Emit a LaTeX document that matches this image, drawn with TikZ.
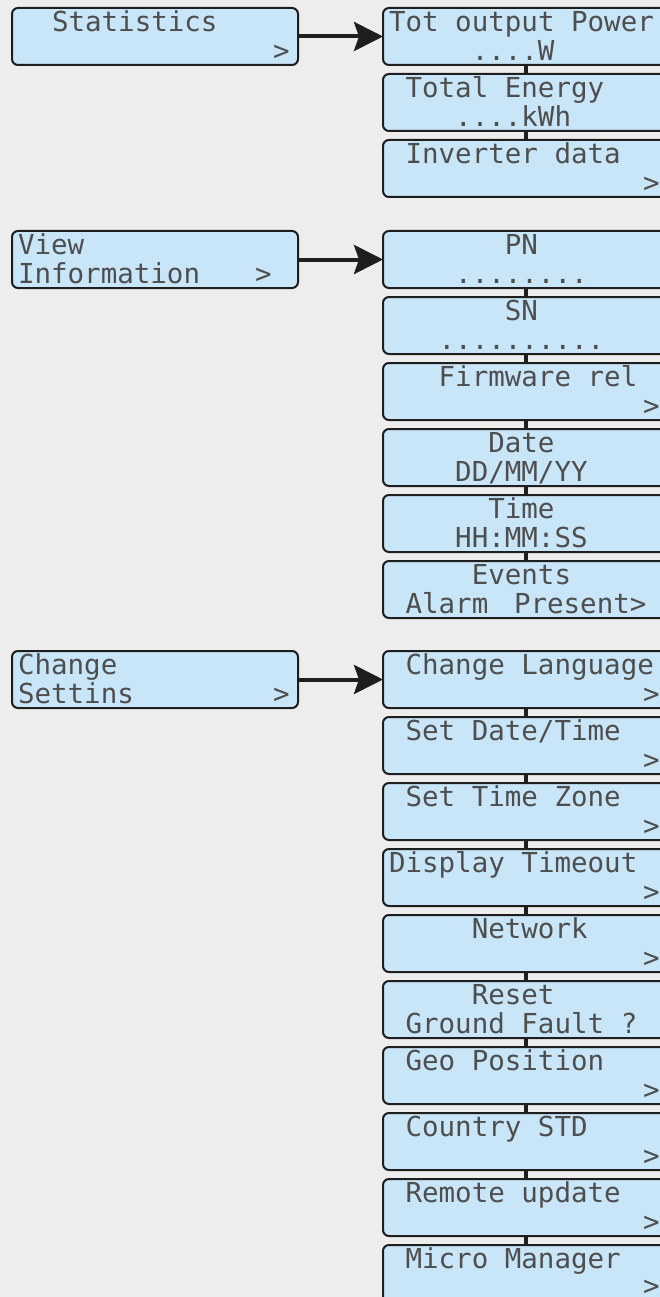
\documentclass[tikz,border=0pt]{standalone}
\usepackage{fontspec}
\newfontfamily\lcdfont{DejaVu Sans Mono}
\usetikzlibrary{arrows.meta,calc}
\definecolor{bgcol}{HTML}{EDEDED}
\definecolor{boxfill}{HTML}{C8E6F8}
\definecolor{boxline}{HTML}{1E1E1E}
\definecolor{lcdtext}{HTML}{4E4E4E}
\newcommand\lcdline[5]{\node[lcd] (#1) at ($(#2.north west)+(#3,#4)$) {#5};}
\begin{document}
\begin{tikzpicture}[x=1pt,y=-1pt,
  menubox/.style={draw=boxline, fill=boxfill, line width=2pt, rounded corners=6pt,
    minimum width=286pt, minimum height=57pt, anchor=north west, inner sep=0pt, outer sep=0pt},
  lcd/.style={anchor=base west, inner sep=0pt, outer sep=0pt,
    font=\lcdfont\fontsize{27.5}{30}\selectfont, text=lcdtext},
  link/.style={draw=boxline, line width=4pt},
  goarrow/.style={draw=boxline, line width=4pt, -{Stealth[length=29pt,width=29pt,inset=5pt]}}]
\useasboundingbox (0,0) rectangle (660,1297);
\clip (0,0) rectangle (660,1297);
\fill[bgcol] (0,0) rectangle (660,1297);

% ---------- left menu boxes ----------
\node[menubox] (stat) at (12,8) {};
\node[menubox] (info) at (12,231) {};
\node[menubox] (sett) at (12,651) {};
\lcdline{stat1}{stat}{40}{23.5}{Statistics}
\lcdline{stat2}{stat}{261}{52.5}{>}
\lcdline{info1}{info}{6}{23.5}{View}
\lcdline{info2}{info}{6}{52.5}{Information}
\lcdline{info3}{info}{243}{52.5}{>}
\lcdline{sett1}{sett}{6}{23.5}{Change}
\lcdline{sett2}{sett}{6}{52.5}{Settins}
\lcdline{sett3}{sett}{261}{52.5}{>}

% ---------- statistics column ----------
\node[menubox] (pow) at (383,8) {};
\node[menubox] (ene) at (383,74) {};
\node[menubox] (inv) at (383,140) {};
\lcdline{pow1}{pow}{6}{23.5}{Tot output Power}
\lcdline{pow2}{pow}{88.75}{52.5}{....W}
\lcdline{ene1}{ene}{22.55}{23.5}{Total Energy}
\lcdline{ene2}{ene}{72.2}{52.5}{....kWh}
\lcdline{inv1}{inv}{22.55}{23.5}{Inverter data}
\lcdline{inv2}{inv}{260}{52.5}{>}

% ---------- information column ----------
\node[menubox] (pn) at (383,231) {};
\node[menubox] (sn) at (383,297) {};
\node[menubox] (fw) at (383,363) {};
\node[menubox] (date) at (383,429) {};
\node[menubox] (time) at (383,495) {};
\node[menubox] (ev) at (383,561) {};
\lcdline{pn1}{pn}{121.85}{23.5}{PN}
\lcdline{pn2}{pn}{72.2}{52.5}{........}
\lcdline{sn1}{sn}{121.85}{23.5}{SN}
\lcdline{sn2}{sn}{55.65}{52.5}{..........}
\lcdline{fw1}{fw}{55.65}{23.5}{Firmware rel}
\lcdline{fw2}{fw}{260}{52.5}{>}
\lcdline{date1}{date}{105.3}{23.5}{Date}
\lcdline{date2}{date}{72.2}{52.5}{DD/MM/YY}
\lcdline{time1}{time}{105.3}{23.5}{Time}
\lcdline{time2}{time}{72.2}{52.5}{HH:MM:SS}
\lcdline{ev1}{ev}{88.75}{23.5}{Events}
\lcdline{ev2}{ev}{22.55}{52.5}{Alarm}
\lcdline{ev3}{ev}{131}{52.5}{Present>}

% ---------- settings column ----------
\node[menubox] (lang) at (383,651) {};
\node[menubox] (sdt) at (383,717) {};
\node[menubox] (stz) at (383,783) {};
\node[menubox] (dto) at (383,849) {};
\node[menubox] (net) at (383,915) {};
\node[menubox] (rgf) at (383,981) {};
\node[menubox] (geo) at (383,1047) {};
\node[menubox] (cstd) at (383,1113) {};
\node[menubox] (rup) at (383,1179) {};
\node[menubox] (mm) at (383,1245) {};
\lcdline{lang1}{lang}{22.55}{23.5}{Change Language}
\lcdline{lang2}{lang}{260}{52.5}{>}
\lcdline{sdt1}{sdt}{22.55}{23.5}{Set Date/Time}
\lcdline{sdt2}{sdt}{260}{52.5}{>}
\lcdline{stz1}{stz}{22.55}{23.5}{Set Time Zone}
\lcdline{stz2}{stz}{260}{52.5}{>}
\lcdline{dto1}{dto}{6}{23.5}{Display Timeout}
\lcdline{dto2}{dto}{260}{52.5}{>}
\lcdline{net1}{net}{88.75}{23.5}{Network}
\lcdline{net2}{net}{260}{52.5}{>}
\lcdline{rgf1}{rgf}{88.75}{23.5}{Reset}
\lcdline{rgf2}{rgf}{22.55}{52.5}{Ground Fault ?}
\lcdline{geo1}{geo}{22.55}{23.5}{Geo Position}
\lcdline{geo2}{geo}{260}{52.5}{>}
\lcdline{cstd1}{cstd}{22.55}{23.5}{Country STD}
\lcdline{cstd2}{cstd}{260}{52.5}{>}
\lcdline{rup1}{rup}{22.55}{23.5}{Remote update}
\lcdline{rup2}{rup}{260}{52.5}{>}
\lcdline{mm1}{mm}{22.55}{23.5}{Micro Manager}
\lcdline{mm2}{mm}{260}{50.5}{>}

% ---------- connectors ----------
\draw[goarrow] (stat.east) -- (pow.west);
\draw[goarrow] (info.east) -- (pn.west);
\draw[goarrow] (sett.east) -- (lang.west);
\draw[link] (pow.south) -- (ene.north);
\draw[link] (ene.south) -- (inv.north);
\draw[link] (pn.south) -- (sn.north);
\draw[link] (sn.south) -- (fw.north);
\draw[link] (fw.south) -- (date.north);
\draw[link] (date.south) -- (time.north);
\draw[link] (time.south) -- (ev.north);
\draw[link] (lang.south) -- (sdt.north);
\draw[link] (sdt.south) -- (stz.north);
\draw[link] (stz.south) -- (dto.north);
\draw[link] (dto.south) -- (net.north);
\draw[link] (net.south) -- (rgf.north);
\draw[link] (rgf.south) -- (geo.north);
\draw[link] (geo.south) -- (cstd.north);
\draw[link] (cstd.south) -- (rup.north);
\draw[link] (rup.south) -- (mm.north);
\end{tikzpicture}
\end{document}
